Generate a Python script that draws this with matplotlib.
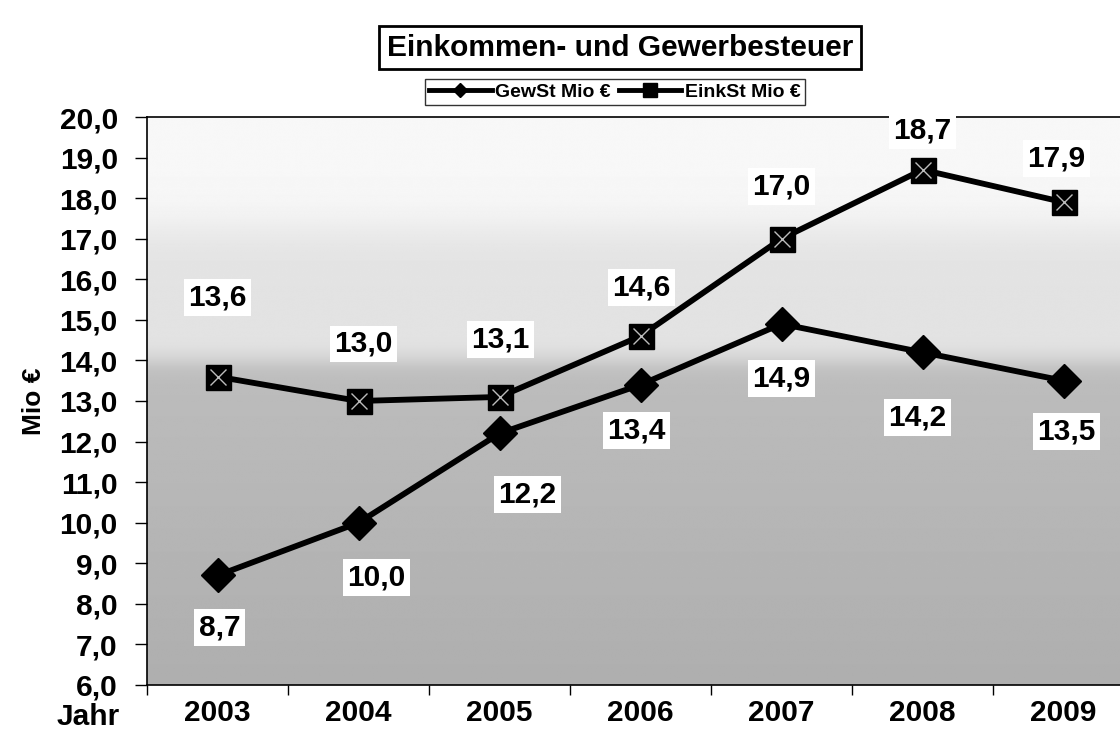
import matplotlib
matplotlib.use("Agg")
import matplotlib.pyplot as plt
import numpy as np
from matplotlib.lines import Line2D

years = ["2003", "2004", "2005", "2006", "2007", "2008", "2009"]
gewst = [8.7, 10.0, 12.2, 13.4, 14.9, 14.2, 13.5]
einkst = [13.6, 13.0, 13.1, 14.6, 17.0, 18.7, 17.9]
yticks = [6, 7, 8, 9, 10, 11, 12, 13, 14, 15, 16, 17, 18, 19, 20]

# label offsets (pixels) - layout only
eink_dy = [79, 57, 57, 49, 52, 39, 44]
eink_dx = [0, 5, 1, 1, 0, 0, -7]
gew_dy = [52, 55, 61, 46, 55, 65, 51]
gew_dx = [2, 18, 28, -4, 0, -5, 3]

plt.rcParams['font.family'] = ['Liberation Sans', 'DejaVu Sans']
plt.rcParams['font.weight'] = 'bold'

FS = 21.5
W, H = 1120, 743
fig = plt.figure(figsize=(W / 100, H / 100), dpi=100)
fig.patch.set_facecolor('white')
ax = fig.add_axes([147 / W, 58 / H, 987 / W, 568 / H])

# background gradient (soft bands)
yy = np.linspace(20, 6, 600)
def smooth_step(y, c, w):
    return 1.0 / (1.0 + np.exp(-(y - c) / w))
vals = 0.74 - (14 - yy).clip(0) * 0.007
vals = vals + (0.89 - 0.74) * smooth_step(yy, 14.0, 0.15)
vals = vals + (0.97 - 0.89) * smooth_step(yy, 17.3, 0.3)
img = np.tile(vals[:, None], (1, 50))
ax.imshow(img, extent=[-0.5, 6.5, 6, 20], aspect='auto', cmap='gray',
          vmin=0, vmax=1, zorder=0, interpolation='bilinear')

x = np.arange(len(years))
ax.plot(x, gewst, color='black', lw=4.2, marker='D', markersize=17,
        markerfacecolor='black', markeredgecolor='black', zorder=3)
ax.plot(x, einkst, color='black', lw=4.2, marker='s', markersize=18,
        markerfacecolor='black', markeredgecolor='black', zorder=3)
ax.plot(x, einkst, linestyle='none', marker='x', markersize=12,
        markeredgecolor='#bbbbbb', markeredgewidth=1.0, zorder=4)

ax.set_xlim(-0.5, 6.5)
ax.set_ylim(6, 20)
ax.set_yticks(yticks)
ax.set_yticklabels([f"{v:.1f}".replace('.', ',') for v in yticks], fontsize=FS, fontweight='bold')
ax.set_xticks(np.arange(-0.5, 7.0, 1.0))
ax.set_xticklabels([])
ax.set_xticks(x, minor=True)
ax.set_xticklabels(years, minor=True, fontsize=FS, fontweight='bold')
ax.tick_params(axis='x', which='major', direction='out', length=7, width=1)
ax.tick_params(axis='x', which='minor', length=0, pad=10)
ax.tick_params(axis='y', direction='out', length=9, width=1, pad=12)
for s in ax.spines.values():
    s.set_linewidth(1.2)
    s.set_color('black')
ax.spines['right'].set_visible(False)

ax.set_ylabel("Mio €", fontsize=19, fontweight='bold', labelpad=10)

bbox = dict(boxstyle='square,pad=0.15', fc='white', ec='none')
for i in range(len(years)):
    ax.annotate(f"{einkst[i]:.1f}".replace('.', ','), (x[i], einkst[i]),
                xytext=(eink_dx[i] * 0.72, eink_dy[i] * 0.72), textcoords='offset points',
                ha='center', va='center', fontsize=FS, fontweight='bold', bbox=bbox, zorder=5)
    ax.annotate(f"{gewst[i]:.1f}".replace('.', ','), (x[i], gewst[i]),
                xytext=(gew_dx[i] * 0.72, -gew_dy[i] * 0.72), textcoords='offset points',
                ha='center', va='center', fontsize=FS, fontweight='bold', bbox=bbox, zorder=5)

fig.text(88 / W, 1 - 717 / H, "Jahr", ha='center', va='center', fontsize=FS, fontweight='bold')

fig.text(620 / W, 1 - 47.5 / H, "Einkommen- und Gewerbesteuer", ha='center', va='center',
         fontsize=21.5, fontweight='bold',
         bbox=dict(boxstyle='square,pad=0.25', fc='white', ec='black', lw=2))

handles = [
    Line2D([], [], color='black', lw=3.5, marker='D', markersize=7, markerfacecolor='black'),
    Line2D([], [], color='black', lw=3.5, marker='s', markersize=10, markerfacecolor='black'),
]
leg = fig.legend(handles, ["GewSt Mio €", "EinkSt Mio €"], loc='center',
                 bbox_to_anchor=(615 / W, 1 - 92 / H), ncol=2, frameon=True,
                 fancybox=False, edgecolor='black', prop={'weight': 'bold', 'size': 14},
                 handlelength=3.2, handletextpad=0.2, columnspacing=0.4,
                 borderpad=0.2)
leg.get_frame().set_linewidth(1)

fig.savefig("out.png", dpi=100, facecolor='white')
